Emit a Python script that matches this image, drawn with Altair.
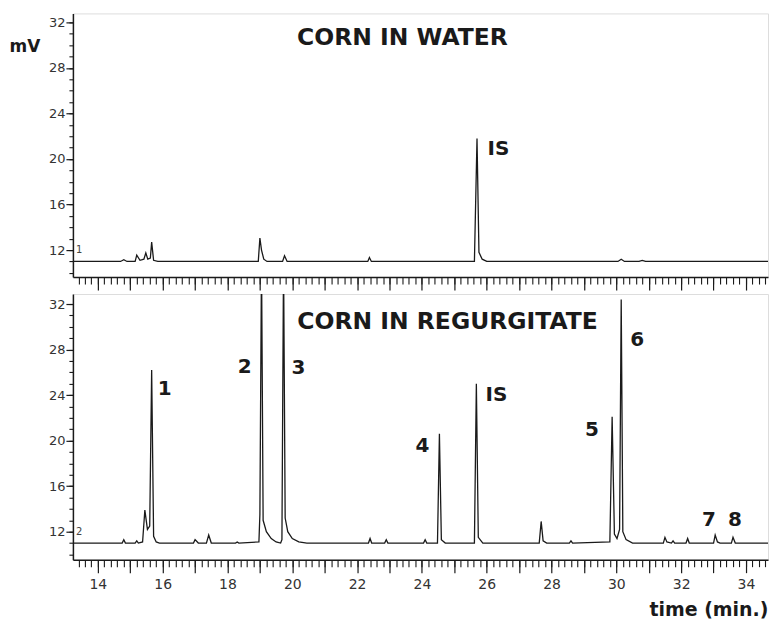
import altair as alt
import pandas as pd

# ---- data ----
# Corn in water (upper trace): time (min) and detector signal (mV)
water_t = [13.23, 14.0, 14.7, 14.8, 14.9, 15.15, 15.2, 15.3, 15.42, 15.48, 15.54, 15.62, 15.66, 15.72,
           15.85, 18.95, 19.0, 19.05, 19.12, 19.22, 19.7, 19.76, 19.84, 22.33, 22.38, 22.44, 25.62,
           25.7, 25.76, 25.86, 26.0, 30.05, 30.15, 30.25, 30.7, 30.8, 30.9, 34.68]
water_mv = [11.0, 11.0, 11.0, 11.15, 11.0, 11.0, 11.55, 11.1, 11.2, 11.75, 11.2, 11.3, 12.7, 11.1,
            11.0, 11.0, 13.05, 12.0, 11.2, 11.0, 11.0, 11.5, 11.0, 11.0, 11.35, 11.0, 11.0,
            21.8, 11.8, 11.2, 11.0, 11.0, 11.2, 11.0, 11.0, 11.1, 11.0, 11.0]

# Corn in regurgitate (lower trace)
regurg_t = [13.23, 14.75, 14.8, 14.85, 15.15, 15.2, 15.25, 15.38, 15.45, 15.53, 15.6, 15.66, 15.72,
            15.8, 15.9, 16.95, 17.0, 17.1, 17.35, 17.42, 17.5, 18.25, 18.3, 18.35, 18.97, 19.0,
            19.05, 19.1, 19.2, 19.35, 19.5, 19.64, 19.68, 19.73, 19.78, 19.86, 20.0, 20.2, 20.45,
            22.35, 22.4, 22.45, 22.85, 22.9, 22.95, 24.05, 24.1, 24.15, 24.48, 24.54, 24.6, 24.72,
            25.62, 25.68, 25.74, 25.88, 27.62, 27.68, 27.74, 27.85, 28.55, 28.6, 28.65, 29.8,
            29.87, 29.94, 30.02, 30.1, 30.15, 30.2, 30.3, 30.5, 31.45, 31.5, 31.56, 31.7, 31.75,
            31.8, 32.15, 32.2, 32.25, 33.0, 33.05, 33.12, 33.2, 33.55, 33.6, 33.67, 34.68]
regurg_mv = [11.0, 11.0, 11.3, 11.0, 11.0, 11.2, 11.0, 11.1, 13.9, 12.2, 12.5, 26.2, 11.6,
             11.1, 11.0, 11.0, 11.3, 11.0, 11.0, 11.7, 11.0, 11.0, 11.1, 11.0, 11.1, 13.5,
             36.0, 13.0, 12.0, 11.4, 11.1, 11.0, 11.3, 36.0, 13.2, 12.0, 11.4, 11.1, 11.0,
             11.0, 11.4, 11.0, 11.0, 11.3, 11.0, 11.0, 11.3, 11.0, 11.0, 20.6, 11.3, 11.0,
             11.0, 25.0, 11.5, 11.0, 11.0, 12.9, 11.2, 11.0, 11.0, 11.2, 11.0, 11.1,
             22.1, 11.8, 11.4, 12.2, 32.4, 12.0, 11.3, 11.0, 11.0, 11.5, 11.1, 11.0, 11.2,
             11.0, 11.0, 11.4, 11.0, 11.0, 11.7, 11.1, 11.0, 11.0, 11.5, 11.0, 11.0]

# peak annotations (label, time, mV where the label sits)
water_labels = ["IS"]
water_label_t = [26.36]
water_label_mv = [20.86]

regurg_labels = ["1", "2", "3", "4", "IS", "5", "6", "7", "8"]
regurg_label_t = [16.06, 18.53, 20.19, 24.02, 26.3, 29.25, 30.64, 32.86, 33.66]
regurg_label_mv = [24.5, 26.5, 26.4, 19.5, 24.0, 20.95, 28.8, 13.05, 13.05]

panel_titles = ["CORN  IN  WATER", "CORN  IN  REGURGITATE"]
panel_title_t = [23.4, 24.79]
panel_title_mv = [30.6, 30.42]
channel_marks = ["1", "2"]

# axis ticks
x_major = list(range(14, 35))
x_minor = [round(13.4 + 0.2 * i, 1) for i in range(107)]
y_major = [12, 16, 20, 24, 28, 32]
y_minor = list(range(10, 33))

X_DOMAIN = [13.23, 34.68]
W = 696
FONT = "DejaVu Sans"
INK = "#1a1a1a"

COMMON = dict(grid=False, domainColor=INK, domainWidth=1.5, tickColor=INK, tickWidth=1.2,
              labelColor="#333333", labelFont=FONT, titleFont=FONT, titleColor=INK,
              titleFontWeight="bold")


def xscale():
    return alt.Scale(domain=X_DOMAIN, nice=False, zero=False)


def panel(t, mv, labels, lt, lmv, title, tt, tmv, mark, domain, height, bottom_panel):
    trace = pd.DataFrame({"t": t, "mv": mv})
    ann = pd.DataFrame({"t": lt, "mv": lmv, "label": labels})
    head = pd.DataFrame({"t": [tt], "mv": [tmv], "label": [title]})
    chan = pd.DataFrame({"t": [13.42], "mv": [12.0], "label": [mark]})
    yscale = alt.Scale(domain=domain, nice=False, zero=False)

    x_major_axis = alt.Axis(
        values=x_major, orient="bottom", tickSize=13,
        labels=bottom_panel,
        labelExpr="datum.value % 2 === 0 ? datum.label : ''",
        labelFontSize=14, labelPadding=5,
        title="time  (min.)" if bottom_panel else None,
        titleFontSize=19, titleAlign="right", titleBaseline="middle",
        titleX=W, titleY=50, **COMMON)
    y_major_axis = alt.Axis(
        values=y_major, orient="left", tickSize=7, labelFontSize=13, labelPadding=1,
        title=None if bottom_panel else "mV",
        titleAngle=0, titleAlign="left", titleBaseline="middle",
        titleX=-64, titleY=33, titleFontSize=17, **COMMON)
    x_minor_axis = alt.Axis(values=x_minor, orient="bottom", tickSize=7, labels=False,
                            domain=False, title=None, grid=False, tickColor=INK, tickWidth=1.1)
    y_minor_axis = alt.Axis(values=y_minor, orient="left", tickSize=4, labels=False,
                            domain=False, title=None, grid=False, tickColor=INK, tickWidth=1.1)

    line = alt.Chart(trace).mark_line(color=INK, strokeWidth=1.3, clip=True).encode(
        x=alt.X("t:Q", scale=xscale(), axis=x_major_axis),
        y=alt.Y("mv:Q", scale=yscale, axis=y_major_axis),
        order="t:Q")
    channel = alt.Chart(chan).mark_text(fontSize=10, font=FONT, color="#444444").encode(
        x=alt.X("t:Q", scale=xscale(), axis=x_minor_axis),
        y=alt.Y("mv:Q", scale=yscale, axis=y_minor_axis),
        text="label:N")
    peaks = alt.Chart(ann).mark_text(fontSize=20, fontWeight="bold", font=FONT, color=INK).encode(
        x=alt.X("t:Q", scale=xscale(), axis=None),
        y=alt.Y("mv:Q", scale=yscale, axis=None),
        text="label:N")
    heading = alt.Chart(head).mark_text(fontSize=23.5, fontWeight="bold", font=FONT, color=INK).encode(
        x=alt.X("t:Q", scale=xscale(), axis=None),
        y=alt.Y("mv:Q", scale=yscale, axis=None),
        text="label:N")
    return alt.layer(line, channel, peaks, heading).resolve_axis(
        x="independent", y="independent").properties(width=W, height=height)


top = panel(water_t, water_mv, water_labels, water_label_t, water_label_mv,
            panel_titles[0], panel_title_t[0], panel_title_mv[0], channel_marks[0],
            [9.63, 32.79], 264, False)
bottom = panel(regurg_t, regurg_mv, regurg_labels, regurg_label_t, regurg_label_mv,
               panel_titles[1], panel_title_t[1], panel_title_mv[1], channel_marks[1],
               [9.54, 32.88], 266, True)

chart = alt.vconcat(top, bottom, spacing=1).properties(
    padding={"left": 0, "top": 4, "right": 0, "bottom": 0}
).configure_view(stroke=INK, strokeWidth=1.5).configure(background="white")

chart.save("out.html", embed_options={"renderer": "svg", "actions": False})
